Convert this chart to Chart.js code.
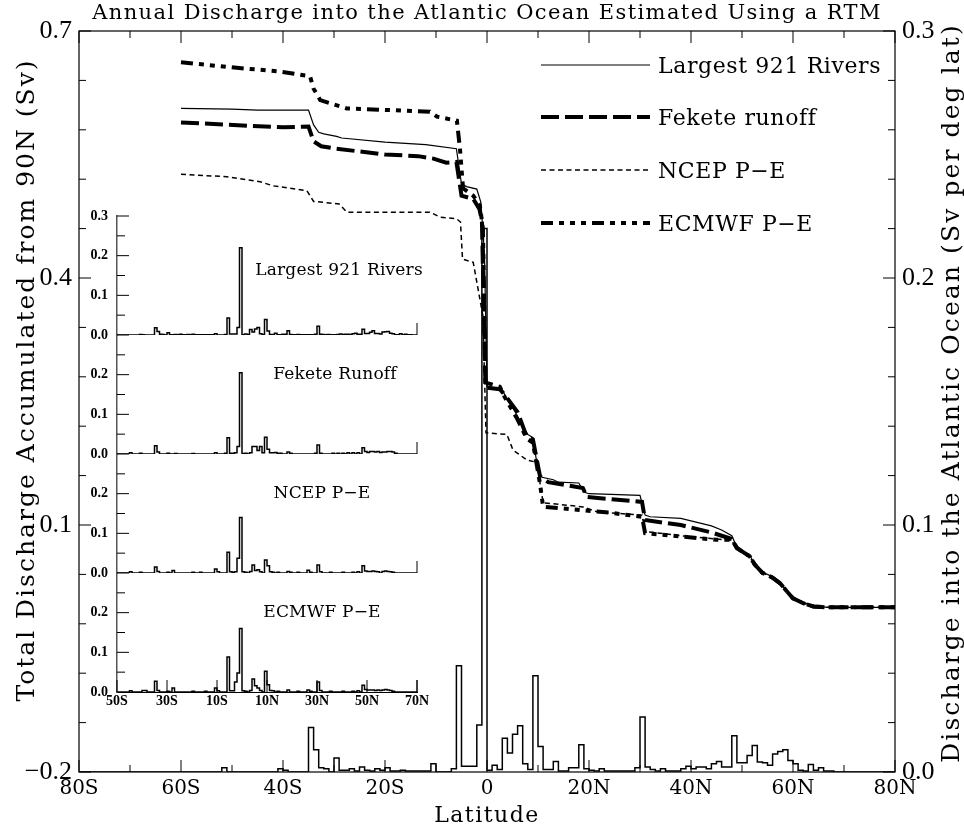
<!DOCTYPE html>
<html>
<head>
<meta charset="utf-8">
<title>Annual Discharge into the Atlantic Ocean</title>
<script src="https://cdn.jsdelivr.net/npm/chart.js@4.4.1/dist/chart.umd.min.js"></script>
<style>
  html, body { margin: 0; padding: 0; background: #fff; }
  #wrap { position: relative; width: 964px; height: 828px; }
  #wrap canvas { position: absolute; left: 0; top: 0; }
</style>
</head>
<body>
<div id="wrap">
  <canvas id="mainChart" width="964" height="828"></canvas>
  <canvas id="insetChart" width="964" height="828"></canvas>
</div>
<script>
// Axis ticks
const latTicks = [-80, -60, -40, -20, 0, 20, 40, 60, 80];
const latTickLabels = ['80S', '60S', '40S', '20S', '0', '20N', '40N', '60N', '80N'];
const accTicks = [-0.2, 0.1, 0.4, 0.7];
const perDegTicks = [0.0, 0.1, 0.2, 0.3];
const insetLatTicks = [-50, -30, -10, 10, 30, 50, 70];
const insetLatLabels = ['50S', '30S', '10S', '10N', '30N', '50N', '70N'];
const insetTicksTop = [0.0, 0.1, 0.2, 0.3];
const insetTicks = [0.0, 0.1, 0.2];

const seriesNames = ['Largest 921 Rivers', 'Fekete runoff', 'NCEP P\u2212E', 'ECMWF P\u2212E'];
const panelNames = ['Largest 921 Rivers', 'Fekete Runoff', 'NCEP P\u2212E', 'ECMWF P\u2212E'];

// Total discharge accumulated from 90N (Sv)
const riversAccLat = [-60, -50, -45, -35, -34, -33, -32, -29.5, -28.5, -20, -12, -6, -5, -4, -2, -1.2, -0.5, 0, 1, 3,
  4, 5, 6, 7, 8, 9, 10, 10.8, 13, 14, 18, 19, 20, 30, 31, 32, 38, 44, 46, 48,
  49, 50, 51.5, 52.5, 54, 56, 57.5, 59, 60, 62, 64, 66.7, 80];
const riversAcc = [0.606, 0.605, 0.604, 0.604, 0.586, 0.577, 0.575, 0.572, 0.570, 0.565, 0.562, 0.557, 0.514, 0.511, 0.508, 0.492, 0.43, 0.268, 0.267, 0.264,
  0.252, 0.243, 0.232, 0.22, 0.21, 0.206, 0.166, 0.158, 0.155, 0.152, 0.151, 0.14, 0.138, 0.136, 0.112, 0.110, 0.108, 0.099, 0.094, 0.087,
  0.073, 0.069, 0.063, 0.053, 0.043, 0.037, 0.030, 0.019, 0.012, 0.006, 0.002, 0.0, 0.0];

const feketeAccLat = [-60, -47, -40, -35, -34, -32.5, -29.5, -20, -13.5, -10.5, -8, -6, -5, -2.7, -1.5, -1, -0.3, 2.5, 3.5, 6,
  7.8, 9, 10.4, 12, 18.8, 19.6, 30.4, 31, 38, 44, 48, 49, 50, 51.5, 52.5, 54, 56, 57.5, 59, 60,
  62, 64, 66.7, 80];
const feketeAcc = [0.589, 0.585, 0.583, 0.584, 0.566, 0.560, 0.557, 0.550, 0.548, 0.545, 0.540, 0.541, 0.500, 0.496, 0.484, 0.47, 0.267, 0.265, 0.258, 0.237,
  0.207, 0.204, 0.159, 0.152, 0.145, 0.134, 0.128, 0.106, 0.100, 0.091, 0.083, 0.072, 0.068, 0.062, 0.052, 0.042, 0.036, 0.029, 0.018, 0.011,
  0.005, 0.001, 0.0, 0.0];

const ncepAccLat = [-60, -51, -44.5, -42, -35.3, -34, -29, -27.5, -11.2, -9.2, -6, -5.2, -4.8, -2.7, -0.8, -0.2, 3.9, 5.1, 7.8, 9.8,
  10.4, 11, 18.8, 21.6, 30.4, 31, 38, 45, 48, 49, 50, 51.5, 52.5, 54, 56, 57.5, 59, 60, 62, 64,
  66.7, 80];
const ncepAcc = [0.526, 0.523, 0.517, 0.512, 0.506, 0.493, 0.490, 0.480, 0.480, 0.474, 0.472, 0.468, 0.423, 0.419, 0.354, 0.212, 0.210, 0.191, 0.179, 0.176,
  0.151, 0.127, 0.122, 0.116, 0.112, 0.092, 0.087, 0.083, 0.081, 0.071, 0.067, 0.061, 0.052, 0.042, 0.036, 0.029, 0.018, 0.011, 0.005, 0.001,
  0.0, 0.0];

const ecmwfAccLat = [-60, -48.6, -40.8, -34.7, -34, -32.7, -27.5, -11.2, -9.8, -5.9, -5.3, -4.7, -2.7, -1.4, -0.8, -0.3, 2.5, 3.5, 6, 7.8,
  9, 10.4, 11, 18.8, 24, 30.4, 31, 38, 45, 48, 49, 50, 51.5, 52.5, 54, 56, 57.5, 59, 60, 62,
  64, 66.7, 80];
const ecmwfAcc = [0.662, 0.655, 0.651, 0.645, 0.630, 0.616, 0.606, 0.602, 0.596, 0.591, 0.557, 0.509, 0.500, 0.488, 0.460, 0.273, 0.268, 0.255, 0.228, 0.205,
  0.200, 0.150, 0.122, 0.118, 0.115, 0.110, 0.090, 0.086, 0.082, 0.082, 0.072, 0.068, 0.062, 0.052, 0.042, 0.036, 0.029, 0.018, 0.011, 0.005,
  0.001, 0.0, 0.0];

// Discharge per degree of latitude (Sv), 1-degree bins keyed by their southern edge
const riversBinLat = [-52, -41, -40, -35, -34, -33, -32, -30, -29, -28,
  -27, -26, -25, -24, -23, -22, -21, -20, -19, -18,
  -17, -16, -15, -14, -13, -12, -11, -7, -6, -5,
  -4, -3, -2, -1, 0, 1, 2, 3, 4, 5,
  6, 7, 8, 9, 10, 11, 12, 13, 14, 15,
  16, 17, 18, 19, 20, 21, 22, 23, 24, 25,
  26, 27, 28, 29, 30, 31, 32, 33, 34, 35,
  36, 37, 38, 39, 40, 41, 42, 43, 44, 45,
  46, 47, 48, 49, 50, 51, 52, 53, 54, 55,
  56, 57, 58, 59, 60, 61, 62, 63, 64, 65,
  66, 67];
const riversBinVal = [0.0017, 0.0013, 0.0007, 0.018, 0.009, 0.0017, 0.0013, 0.0057, 0.0007, 0.0007,
  0.0013, 0.0004, 0.002, 0.0007, 0.0004, 0.0013, 0.0007, 0.0017, 0.0004, 0.0004,
  0.0007, 0.0004, 0.0004, 0.0004, 0.0004, 0.0004, 0.0033, 0.0013, 0.043, 0.0023,
  0.0023, 0.0023, 0.019, 0.22, 0.0007, 0.0027, 0.001, 0.0137, 0.0077, 0.0153,
  0.0187, 0.0033, 0.001, 0.039, 0.0103, 0.001, 0.001, 0.0043, 0.0004, 0.0004,
  0.0017, 0.0017, 0.011, 0.0013, 0.0007, 0.0004, 0.0013, 0.0004, 0.0004, 0.0004,
  0.0004, 0.0004, 0.0004, 0.0017, 0.0223, 0.002, 0.001, 0.0004, 0.0013, 0.0004,
  0.0004, 0.0004, 0.0013, 0.0023, 0.0013, 0.002, 0.002, 0.0013, 0.0033, 0.0043,
  0.002, 0.002, 0.0147, 0.0037, 0.0037, 0.0067, 0.0107, 0.004, 0.0037, 0.0027,
  0.0073, 0.0083, 0.009, 0.0047, 0.0033, 0.0007, 0.0004, 0.003, 0.0007, 0.0017,
  0.0004, 0.0004];

const feketeBinLat = [-45, -41, -35, -34, -30, -27, -20, -11, -7, -6,
  -5, -4, -3, -2, -1, 0, 1, 3, 4, 5,
  6, 7, 8, 9, 10, 11, 12, 13, 14, 15,
  18, 19, 29, 30, 31, 36, 38, 40, 42, 44,
  46, 48, 49, 50, 51, 52, 53, 54, 55, 56,
  57, 58, 59, 60, 61];
const feketeBinVal = [0.003, 0.002, 0.021, 0.005, 0.002, 0.001, 0.001, 0.003, 0.002, 0.041,
  0.002, 0.002, 0.003, 0.019, 0.205, 0.001, 0.002, 0.003, 0.019, 0.019,
  0.009, 0.019, 0.003, 0.042, 0.012, 0.003, 0.003, 0.004, 0.002, 0.002,
  0.005, 0.002, 0.002, 0.023, 0.002, 0.002, 0.002, 0.002, 0.003, 0.003,
  0.003, 0.016, 0.006, 0.004, 0.006, 0.006, 0.005, 0.006, 0.004, 0.005,
  0.005, 0.006, 0.006, 0.005, 0.002];

const ncepBinLat = [-45, -41, -35, -34, -30, -28, -20, -17, -11, -10,
  -6, -5, -4, -3, -2, -1, 0, 1, 3, 4,
  5, 6, 7, 9, 10, 11, 12, 14, 18, 19,
  22, 26, 27, 30, 31, 35, 40, 44, 46, 48,
  49, 50, 51, 52, 53, 54, 56, 57, 58, 59,
  60];
const ncepBinVal = [0.003, 0.002, 0.015, 0.004, 0.002, 0.006, 0.002, 0.002, 0.01, 0.003,
  0.052, 0.003, 0.002, 0.003, 0.037, 0.14, 0.003, 0.002, 0.004, 0.02,
  0.006, 0.008, 0.003, 0.033, 0.018, 0.003, 0.002, 0.002, 0.004, 0.002,
  0.002, 0.007, 0.002, 0.02, 0.003, 0.002, 0.002, 0.002, 0.003, 0.018,
  0.005, 0.004, 0.004, 0.005, 0.004, 0.003, 0.004, 0.005, 0.004, 0.003,
  0.002];

const ecmwfBinLat = [-45, -40, -39, -35, -34, -30, -28, -20, -15, -11,
  -10, -6, -5, -4, -3, -2, -1, 0, 1, 3,
  4, 5, 6, 7, 9, 10, 11, 12, 14, 18,
  22, 26, 27, 30, 31, 35, 40, 44, 46, 48,
  49, 50, 51, 52, 53, 54, 55, 56, 57, 58,
  59, 60];
const ecmwfBinVal = [0.003, 0.004, 0.004, 0.027, 0.004, 0.002, 0.01, 0.002, 0.002, 0.01,
  0.003, 0.088, 0.003, 0.003, 0.025, 0.048, 0.16, 0.003, 0.002, 0.004,
  0.033, 0.016, 0.01, 0.004, 0.052, 0.018, 0.004, 0.003, 0.002, 0.005,
  0.002, 0.005, 0.002, 0.025, 0.004, 0.002, 0.002, 0.002, 0.003, 0.017,
  0.006, 0.005, 0.005, 0.005, 0.004, 0.005, 0.004, 0.005, 0.006, 0.005,
  0.004, 0.002];

const SERIF = '"DejaVu Serif", serif';
const TIMES = '"Liberation Serif", serif';

function pairs(lats, vals) {
  return lats.map((x, i) => ({ x, y: vals[i] }));
}

// one point per bin edge, empty bins sit on the baseline
function binSteps(binLat, binVal, from, to) {
  const lookup = new Map(binLat.map((lat, i) => [lat, binVal[i]]));
  const pts = [];
  for (let lat = from; lat < to; lat++) pts.push({ x: lat, y: lookup.get(lat) || 0 });
  pts.push({ x: to, y: 0 });
  return pts;
}

function drawText(ctx, text, x, y, font, spacing, align, rot) {
  ctx.save();
  ctx.translate(x, y);
  if (rot) ctx.rotate(rot);
  ctx.font = font;
  ctx.letterSpacing = spacing + 'px';
  ctx.textAlign = align || 'left';
  ctx.textBaseline = 'alphabetic';
  ctx.fillStyle = '#000';
  ctx.fillText(text, 0, 0);
  ctx.restore();
}

function tickLine(ctx, x1, y1, x2, y2) {
  ctx.beginPath();
  ctx.moveTo(x1, y1);
  ctx.lineTo(x2, y2);
  ctx.stroke();
}

const curveStyles = [
  { borderWidth: 1.2, borderDash: [] },
  { borderWidth: 4, borderDash: [18, 6] },
  { borderWidth: 1.5, borderDash: [5, 3.5] },
  { borderWidth: 4, borderDash: [12, 6, 5, 6, 5, 6, 5, 6] }
];
const legendY = [65, 117, 170, 223];

// frame, inward ticks, titles and legend of the main panel
const mainDecor = {
  id: 'mainDecor',
  afterDraw(chart) {
    const { ctx, chartArea: a, scales } = chart;
    ctx.save();
    ctx.strokeStyle = '#000';
    ctx.lineWidth = 1.2;
    ctx.setLineDash([]);
    ctx.strokeRect(a.left, a.top, a.right - a.left, a.bottom - a.top);

    ctx.lineWidth = 1;
    for (let lat = -80; lat <= 80; lat += 10) {
      const px = scales.x.getPixelForValue(lat);
      const len = lat % 20 === 0 ? 12 : 7;
      tickLine(ctx, px, a.bottom, px, a.bottom - len);
      tickLine(ctx, px, a.top, px, a.top + len);
    }
    for (let k = 0; k <= 15; k++) {
      const len = k % 5 === 0 ? 12 : 7;
      const py = scales.y.getPixelForValue(-0.2 + 0.06 * k);
      tickLine(ctx, a.left, py, a.left + len, py);
      const py2 = scales.y2.getPixelForValue(0.02 * k);
      tickLine(ctx, a.right, py2, a.right - len, py2);
    }

    drawText(ctx, 'Annual Discharge into the Atlantic Ocean Estimated Using a RTM', 487, 19, '21px ' + SERIF, 1.4, 'center');
    drawText(ctx, 'Latitude', 487, 822, '22px ' + SERIF, 1.5, 'center');
    drawText(ctx, 'Total Discharge Accumulated from 90N (Sv)', 34, 380, '25px ' + SERIF, 2, 'center', -Math.PI / 2);
    drawText(ctx, 'Discharge into the Atlantic Ocean (Sv per deg lat)', 959, 393, '25px ' + SERIF, 2.1, 'center', -Math.PI / 2);

    // legend
    seriesNames.forEach((name, i) => {
      const st = curveStyles[i];
      ctx.lineWidth = st.borderWidth;
      ctx.setLineDash(st.borderDash);
      ctx.lineCap = 'butt';
      tickLine(ctx, 541, legendY[i], 650, legendY[i]);
      ctx.setLineDash([]);
      drawText(ctx, name, 658, legendY[i] + 8, '22px ' + SERIF, 0.6, 'left');
    });
    ctx.restore();
  }
};

const accSeries = [
  pairs(riversAccLat, riversAcc),
  pairs(feketeAccLat, feketeAcc),
  pairs(ncepAccLat, ncepAcc),
  pairs(ecmwfAccLat, ecmwfAcc)
];

const mainDatasets = accSeries.map((data, i) => ({
  label: seriesNames[i],
  data,
  yAxisID: 'y',
  borderColor: '#000',
  borderWidth: curveStyles[i].borderWidth,
  borderDash: curveStyles[i].borderDash
}));
mainDatasets.push({
  label: 'per degree',
  data: binSteps(riversBinLat, riversBinVal, -80, 80),
  yAxisID: 'y2',
  stepped: true,
  borderColor: '#000',
  borderWidth: 1.5
});

new Chart(document.getElementById('mainChart'), {
  type: 'line',
  data: { datasets: mainDatasets },
  options: {
    responsive: false,
    animation: false,
    devicePixelRatio: 1,
    layout: { padding: { top: 31, left: 0, right: 0, bottom: 0 } },
    plugins: { legend: { display: false }, tooltip: { enabled: false } },
    elements: {
      point: { radius: 0 },
      line: { tension: 0, fill: false, borderCapStyle: 'butt', borderJoinStyle: 'miter' }
    },
    scales: {
      x: {
        type: 'linear', min: -80, max: 80,
        afterBuildTicks: s => { s.ticks = latTicks.map(v => ({ value: v })); },
        afterFit: s => { s.height = 56; },
        grid: { display: false, drawTicks: false },
        border: { display: false },
        ticks: {
          autoSkip: false, maxRotation: 0, padding: 5, color: '#000',
          font: { family: SERIF, size: 20 },
          callback: v => latTickLabels[latTicks.indexOf(v)]
        }
      },
      y: {
        position: 'left', min: -0.2, max: 0.7,
        afterBuildTicks: s => { s.ticks = accTicks.map(v => ({ value: v })); },
        afterFit: s => { s.width = 79; },
        grid: { display: false, drawTicks: false },
        border: { display: false },
        ticks: {
          padding: 7, color: '#000',
          font: { family: TIMES, size: 26 },
          callback: v => (v < 0 ? '\u2212' : '') + Math.abs(v).toFixed(1)
        }
      },
      y2: {
        position: 'right', min: 0, max: 0.3,
        afterBuildTicks: s => { s.ticks = perDegTicks.map(v => ({ value: v })); },
        afterFit: s => { s.width = 69; },
        grid: { display: false, drawTicks: false },
        border: { display: false },
        ticks: {
          padding: 7, color: '#000',
          font: { family: TIMES, size: 26 },
          callback: v => v.toFixed(1)
        }
      }
    }
  },
  plugins: [mainDecor]
});

// ---- stacked per-degree panels ----
const panelKeys = ['p0', 'p1', 'p2', 'p3'];
const panelSeries = [
  binSteps(riversBinLat, riversBinVal, -50, 70),
  binSteps(feketeBinLat, feketeBinVal, -50, 70),
  binSteps(ncepBinLat, ncepBinVal, -50, 70),
  binSteps(ecmwfBinLat, ecmwfBinVal, -50, 70)
];
const panelLabelAt = [[38.8, 0.152], [37.2, 0.19], [32, 0.19], [32, 0.19]];

const insetDecor = {
  id: 'insetDecor',
  afterDraw(chart) {
    const { ctx, chartArea: a, scales } = chart;
    ctx.save();
    ctx.strokeStyle = '#000';
    ctx.lineWidth = 1;
    panelKeys.forEach((key, i) => {
      const s = scales[key];
      for (let k = 1; k <= 6; k++) {
        const py = s.getPixelForValue(0.05 * k);
        tickLine(ctx, a.left, py, a.left + (k % 2 === 0 ? 12 : 8), py);
      }
      const base = s.getPixelForValue(0);
      tickLine(ctx, a.right, base, a.right, base - 12);
      const [lat, v] = panelLabelAt[i];
      drawText(ctx, panelNames[i], scales.x.getPixelForValue(lat), s.getPixelForValue(v), '17px ' + SERIF, 0.2, 'center');
    });
    insetLatTicks.forEach(lat => {
      const px = scales.x.getPixelForValue(lat);
      tickLine(ctx, px, a.bottom, px, a.bottom - 12);
    });
    ctx.restore();
  }
};

function panelScale(weight, tickList) {
  return {
    type: 'linear', position: 'left', stack: 'panels', stackWeight: 1, weight,
    min: 0, max: 0.3,
    afterBuildTicks: s => { s.ticks = tickList.map(v => ({ value: v })); },
    afterFit: s => { s.width = 50; },
    grid: { display: false, drawTicks: false },
    border: { display: true, color: '#555', width: 1.5 },
    ticks: {
      padding: 9, color: '#000',
      font: { family: TIMES, size: 14, weight: 'bold' },
      callback: v => v.toFixed(1)
    }
  };
}

new Chart(document.getElementById('insetChart'), {
  type: 'line',
  data: {
    datasets: panelSeries.map((data, i) => ({
      label: panelNames[i],
      data,
      yAxisID: panelKeys[i],
      stepped: true,
      borderColor: '#000',
      borderWidth: 1.5
    }))
  },
  options: {
    responsive: false,
    animation: false,
    devicePixelRatio: 1,
    layout: { padding: { left: 67, top: 216, right: 547, bottom: 112 } },
    plugins: { legend: { display: false }, tooltip: { enabled: false } },
    elements: { point: { radius: 0 }, line: { tension: 0, fill: false } },
    scales: {
      x: {
        type: 'linear', min: -50, max: 70,
        afterBuildTicks: s => { s.ticks = insetLatTicks.map(v => ({ value: v })); },
        afterFit: s => { s.height = 24; },
        grid: { display: false, drawTicks: false },
        border: { display: true, color: '#000', width: 1 },
        ticks: {
          autoSkip: false, maxRotation: 0, padding: 1, color: '#000',
          font: { family: TIMES, size: 14, weight: 'bold' },
          callback: v => insetLatLabels[insetLatTicks.indexOf(v)]
        }
      },
      p0: panelScale(4, insetTicksTop),
      p1: panelScale(3, insetTicks),
      p2: panelScale(2, insetTicks),
      p3: panelScale(1, insetTicks)
    }
  },
  plugins: [insetDecor]
});
</script>
</body>
</html>
